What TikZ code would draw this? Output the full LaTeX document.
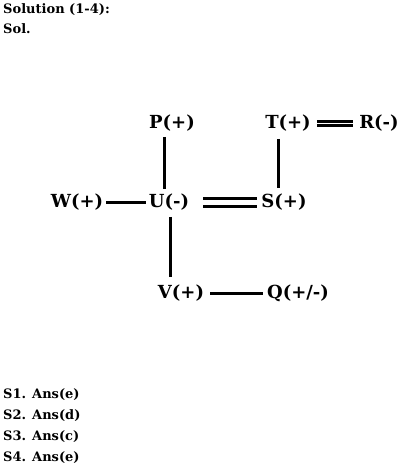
\documentclass[tikz,border=0pt]{standalone}
\usepackage{fontspec}
\setmainfont{DejaVu Serif}
\begin{document}
\begin{tikzpicture}[x=1pt,y=-1pt,
  lbl/.style={inner sep=0pt,font=\bfseries\fontsize{18}{20}\selectfont},
  hdr/.style={inner sep=0pt,anchor=base west,font=\bfseries\fontsize{13}{15}\selectfont},
  conn/.style={line width=3pt},
  dbl/.style={line width=3pt}]
\useasboundingbox (0,0) rectangle (407,470);
% header texts
\node[hdr] (h1) at (3,14) {Solution (1-4):};
\node[hdr] (h2) at (3,34) {Sol.};
% diagram nodes
\node[lbl] (P) at (172,123.5) {P(+)};
\node[lbl] (T) at (288,123.5) {T(+)};
\node[lbl] (R) at (379,123.5) {R(-)};
\node[lbl] (W) at (77,202.5) {W(+)};
\node[lbl] (U) at (169,202.5) {U(-)};
\node[lbl] (S) at (284,202.5) {S(+)};
\node[lbl] (V) at (181,293.5) {V(+)};
\node[lbl] (Q) at (298,293.5) {Q(+/-)};
% connectors
\draw[conn] ([xshift=-8pt,yshift=-5pt]P.south) -- ([xshift=-5pt,yshift=5pt]U.north);
\draw[conn] ([xshift=-10pt,yshift=-7pt]T.south) -- ([xshift=-6pt,yshift=6pt]S.north);
\draw[conn] ([xshift=1pt,yshift=-6pt]U.south) -- ([xshift=-11pt,yshift=8pt]V.north);
\draw[conn] ([xshift=3pt]W.east) -- ([xshift=-3pt]U.west);
\draw[conn] ([xshift=6pt]V.east) -- ([xshift=-4pt]Q.west);
% double connectors
\draw[dbl] ([xshift=6pt,yshift=-2.2pt]T.east) -- ([xshift=-6pt,yshift=-2.2pt]R.west);
\draw[dbl] ([xshift=6pt,yshift=2.2pt]T.east) -- ([xshift=-6pt,yshift=2.2pt]R.west);
\draw[dbl] ([xshift=14pt,yshift=-3.7pt]U.east) -- ([xshift=-4pt,yshift=-3.7pt]S.west);
\draw[dbl] ([xshift=14pt,yshift=3.7pt]U.east) -- ([xshift=-4pt,yshift=3.7pt]S.west);
% answers
\node[hdr] (a1) at (3,398) {S1. Ans(e)};
\node[hdr] (a2) at (3,419) {S2. Ans(d)};
\node[hdr] (a3) at (3,440) {S3. Ans(c)};
\node[hdr] (a4) at (3,461) {S4. Ans(e)};
\end{tikzpicture}
\end{document}
